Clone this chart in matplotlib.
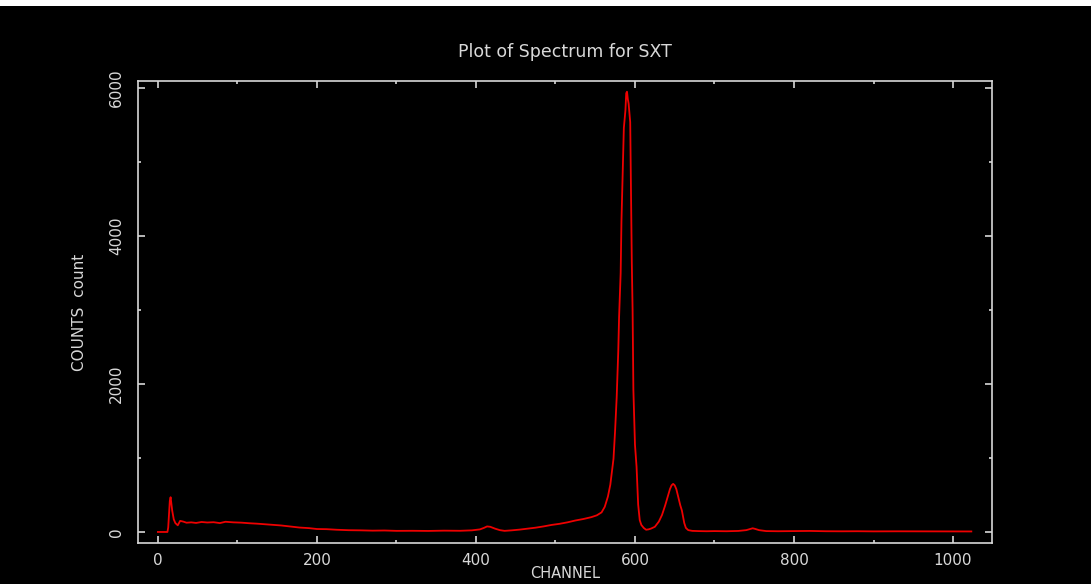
import matplotlib.pyplot as plt
from matplotlib.patches import Rectangle
from matplotlib.ticker import MultipleLocator

# SXT spectrum: counts per channel (sampled along the curve)
channels = [0, 12, 13, 15, 16, 17, 18, 20, 22, 25, 28, 32, 36, 42, 48, 55, 62,
            70, 78, 85, 95, 105, 115, 125, 135, 145, 155, 165, 178, 190, 200,
            212, 225, 240, 255, 270, 285, 300, 320, 340, 360, 380, 395, 405,
            410, 414, 418, 424, 430, 436, 445, 455, 465, 475, 485, 495, 505,
            515, 525, 535, 545, 552, 558, 562, 566, 569, 571, 573, 575, 577,
            579, 580, 582, 583, 585, 586, 588, 589, 590, 591, 592, 594, 595,
            596, 597, 598, 600, 602, 604, 606, 608, 611, 614, 617, 620, 625,
            630, 634, 638, 641, 644, 646, 648, 650, 652, 655, 657, 659, 662,
            664, 667, 672, 680, 690, 700, 715, 730, 740, 745, 748, 751, 756,
            765, 780, 800, 820, 840, 860, 880, 900, 930, 960, 990, 1023]
counts = [0, 0, 60, 420, 470, 380, 290, 170, 120, 90, 150, 140, 125, 130, 122,
          135, 128, 132, 120, 138, 130, 126, 118, 112, 104, 95, 88, 76, 60, 52,
          40, 38, 30, 24, 22, 18, 20, 15, 16, 14, 18, 16, 22, 35, 55, 75, 70,
          45, 25, 15, 22, 32, 45, 58, 75, 95, 110, 130, 155, 175, 200, 225, 265,
          340, 480, 640, 810, 990, 1370, 1820, 2450, 2900, 3500, 4200, 5050,
          5460, 5700, 5930, 5950, 5850, 5790, 5540, 4650, 3650, 3000, 1920,
          1180, 880, 370, 160, 95, 55, 30, 35, 45, 70, 140, 230, 360, 470, 580,
          630, 650, 630, 580, 450, 360, 290, 120, 55, 25, 15, 12, 10, 12, 10,
          14, 25, 40, 50, 42, 25, 12, 10, 12, 14, 10, 9, 10, 8, 9, 8, 8, 7]

fg = "#d8d8d8"

fig = plt.figure(figsize=(10.91, 5.84), dpi=100, facecolor="black")
fig.patches.append(Rectangle((0, 1 - 6 / 584), 1, 6 / 584, transform=fig.transFigure,
                             facecolor="white", edgecolor="none"))

ax = fig.add_axes([138 / 1091, 41 / 584, 854 / 1091, 462 / 584], facecolor="black")
ax.plot(channels, counts, color="#ee0000", linewidth=1.3)

ax.set_xlim(-25, 1049)
ax.set_ylim(-149, 6095)

ax.xaxis.set_major_locator(MultipleLocator(200))
ax.xaxis.set_minor_locator(MultipleLocator(100))
ax.yaxis.set_major_locator(MultipleLocator(2000))
ax.yaxis.set_minor_locator(MultipleLocator(1000))

ax.tick_params(which="both", direction="in", top=True, right=True,
               color=fg, labelcolor=fg, width=1.2)
ax.tick_params(which="major", length=5, labelsize=11)
ax.tick_params(which="minor", length=2.5)
ax.tick_params(axis="x", pad=7)
ax.tick_params(axis="y", pad=10)
for lbl in ax.get_yticklabels():
    lbl.set_rotation(90)
    lbl.set_va("center")

for spine in ax.spines.values():
    spine.set_color(fg)
    spine.set_linewidth(1.2)

ax.set_title("Plot of Spectrum for SXT", color=fg, fontsize=12.5, pad=17)
ax.set_xlabel("CHANNEL", color=fg, fontsize=10.5, labelpad=-1)
ax.set_ylabel("COUNTS  count", color=fg, fontsize=11, labelpad=16)

plt.savefig("out.png", dpi=100, facecolor="black")
plt.close()
